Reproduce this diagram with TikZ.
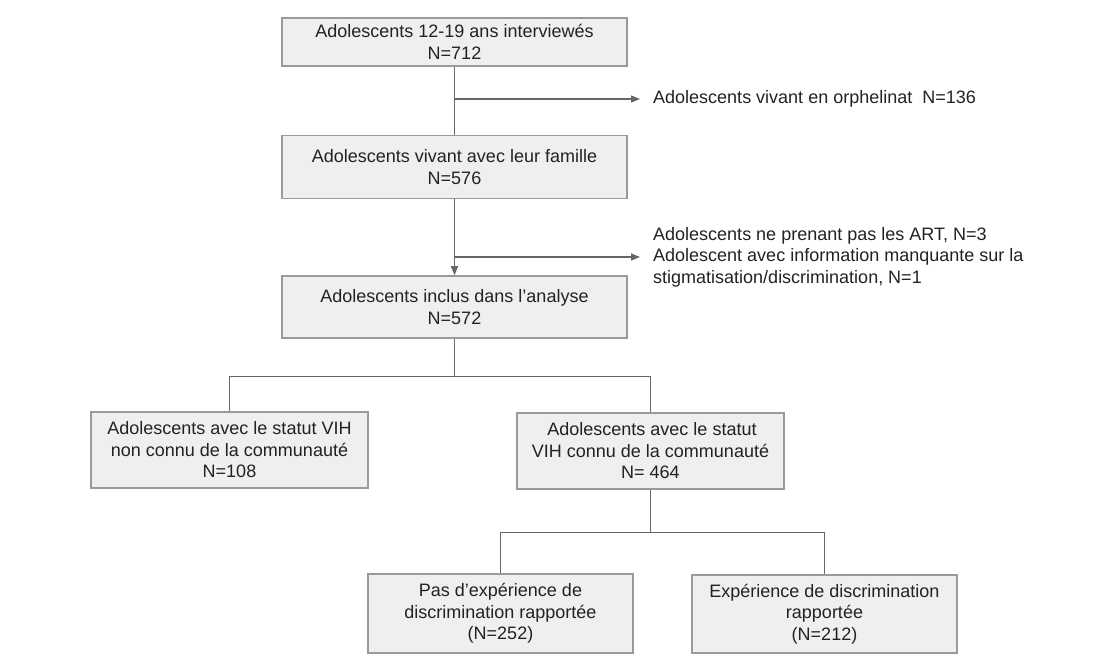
\documentclass[tikz,border=0pt]{standalone}
\usepackage{fontspec}
\setmainfont{Liberation Sans}
\usepackage{xcolor}
\usepackage{tikz}
\usetikzlibrary{arrows.meta, positioning}

\definecolor{boxfill}{HTML}{EFEFEF}
\definecolor{boxgray}{HTML}{9A9A9A}
\definecolor{linegray}{HTML}{666666}
\definecolor{txtgray}{HTML}{222222}

\begin{document}
\begin{tikzpicture}[x=1pt, y=-1pt, >={Triangle[length=9pt, width=7pt]},
        every node/.style={font=\fontsize{18}{21.5}\selectfont},
        block/.style={rectangle, draw=boxgray, fill=boxfill, line width=1.5pt, align=center, inner sep=0pt, text=txtgray},
        note/.style={anchor=west, align=left, inner xsep=13pt, inner ysep=0pt, text=txtgray},
        link/.style={draw=linegray, line width=1.3pt}
        ]
        \useasboundingbox (0,0) rectangle (1112,671);

        % Nodes
        \node [block, minimum width=345pt, minimum height=48pt] (intv) at (454.5,42) {Adolescents 12-19 ans interviewés\\N=712};
        \node [block, minimum width=345pt, minimum height=63pt, below=68pt of intv] (fam) {Adolescents vivant avec leur famille\\N=576};
        \node [block, minimum width=345pt, minimum height=62pt, below=76pt of fam] (incl) {Adolescents inclus dans l’analyse\\N=572};

        \node [block, minimum width=277pt, minimum height=76pt] (nonconnu) at (229.5,450) {Adolescents avec le statut VIH\\non connu de la communauté\\N=108};
        \node [block, minimum width=267pt, minimum height=76pt] (connu) at (650.5,451) {\,Adolescents avec le statut\\VIH connu de la communauté\\N= 464};

        \node [block, minimum width=265pt, minimum height=79pt] (nodisc) at (500.5,613.5) {Pas d’expérience de\\discrimination rapportée\\(N=252)};
        \node [block, minimum width=265pt, minimum height=78pt] (disc) at (824.5,614) {Expérience de discrimination\\rapportée\\(N=212)};

        % Exclusions
        \node [note] (orph) at (640,99) {Adolescents vivant en orphelinat\ \ N=136};
        \node [note] (excl) at (640,257) {Adolescents ne prenant pas les ART, N=3\\Adolescent avec information manquante sur la\\stigmatisation/discrimination, N=1};

        \coordinate (j1) at (intv.south |- orph.west);
        \coordinate (j2) at (fam.south |- excl.west);

        % Edges
        \draw[link] (intv) -- (fam);
        \draw[link, ->] (j1) -- (orph.west);
        \draw[link, ->] (fam) -- (incl);
        \draw[link, ->] (j2) -- (excl.west);

        \draw[link] (incl.south) -- ++(0,38) -| (nonconnu.north);
        \draw[link] (incl.south) -- ++(0,38) -| (connu.north);

        \draw[link] (connu.south) -- ++(0,43) -| (nodisc.north);
        \draw[link] (connu.south) -- ++(0,43) -| (disc.north);

    \end{tikzpicture}
\end{document}
